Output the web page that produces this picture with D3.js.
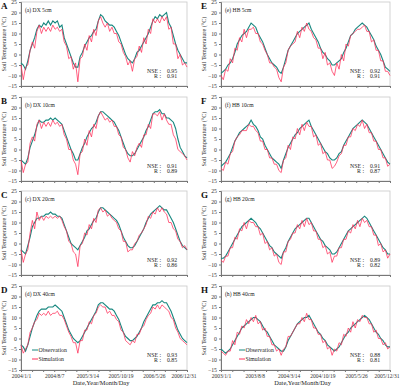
<!DOCTYPE html>
<html>
<head>
<meta charset="utf-8">
<script src="https://cdn.jsdelivr.net/npm/d3@7"></script>
<style>
  body { margin: 0; background: #fff; }
  text { font-family: "Liberation Serif", "DejaVu Serif", serif; }
</style>
</head>
<body>
<div id="chart"></div>
<script>
// sampled every 15 days over 1096 days
var dayStep = 15;
var dxDates = ["2004/1/1", "2004/8/7", "2005/3/14", "2005/10/19", "2006/5/26", "2006/12/31"];
var hbDates = ["2003/1/1", "2003/8/8", "2004/3/14", "2004/10/19", "2005/5/26", "2005/12/31"];
var yTicks = [-15, -10, -5, 0, 5, 10, 15, 20, 25];
var letters = ["A", "B", "C", "D", "E", "F", "G", "H"];
var titles = ["(a) DX 5cm", "(b) DX 10cm", "(c) DX 20cm", "(d) DX 40cm",
              "(e) HB 5cm", "(f) HB 10cm", "(g) HB 20cm", "(h) HB 40cm"];
var nse = ["0.95", "0.91", "0.92", "0.93", "0.92", "0.91", "0.89", "0.88"];
var rVal = ["0.91", "0.89", "0.86", "0.85", "0.91", "0.87", "0.82", "0.81"];

var dx5Obs = [-4,-5,-7,-3,2,5,8,12,14,13, 15,14,16,14,16,15,16,13,14,8, 5,2,-1,-4,-6,-6,-1,1,4,6,
  8,9,11,12,16,19,18,16,15,14, 14,13,11,9,6,3,0,-2,-3,-4, -2,1,2,4,6,8,10,13,16,18, 17,19,18,19,20,15,13,9,5,2, 0,-2,-4,-4];
var dx5Sim = [-5,-12,-6,-5,2,6,3,11,14,10, 13,11,13,11,14,12,13,11,12,6, 4,-2,-1,-7,-4,-13,-2,-1,5,2,
  9,6,12,9,16,18,15,13,15,11, 13,10,10,6,5,1,-1,-5,-3,-8, -2,-1,4,1,8,5,12,10,17,15, 17,15,18,16,18,12,13,5,5,-2, 0,-5,-4,-6];
var dx10Obs = [-5,-6,-7,-4,1,4,7,11,14,13, 13,14,14,15,14,15,14,13,12,9, 6,3,0,-2,-5,-5,-2,1,3,6,
  8,10,11,13,16,18,18,17,16,15, 14,13,11,9,6,3,0,-2,-3,-3, -2,0,2,4,6,9,11,14,17,18, 18,19,17,17,15,15,14,13,10,5, 1,-1,-3,-4];
var dx10Sim = [-5,-11,-7,-6,3,6,4,12,14,10, 13,11,13,11,14,12,13,11,12,7, 5,0,0,-5,-7,-12,-2,-1,5,2,
  9,6,12,10,16,18,16,14,15,13, 14,11,11,7,6,1,0,-4,-6,-1, -3,1,3,1,7,7,12,10,17,17, 16,18,14,17,14,12,12,7,5,0, -1,-2,-3,-5];
var dx20Obs = [-3,-4,-5,-1,3,8,10,12,12,13, 13,14,14,15,14,14,13,13,12,9, 6,3,0,-1,-2,-3,-1,1,3,6,
  7,9,11,12,15,17,17,16,15,14, 13,12,11,9,6,3,1,-1,-2,-2, -1,1,3,5,7,10,12,14,15,16, 17,18,17,16,16,14,12,10,7,4, 1,-1,-2,-3];
var dx20Sim = [-3,-9,-5,-3,5,11,7,15,11,13, 11,13,12,13,12,13,12,13,11,8, 6,1,0,-4,-5,-11,-1,0,5,4,
  9,7,12,10,16,17,15,16,13,14, 12,11,10,7,6,1,1,-4,-3,-3, 0,1,4,5,7,9,13,12,15,14, 17,15,17,15,14,10,10,7,6,2, 1,-2,-1,-3];
var dx40Obs = [-3,-4,-6,-3,1,5,8,11,13,14, 14,14,15,15,15,16,15,14,13,10, 7,4,2,0,-1,-2,-1,1,3,5,
  7,9,11,13,16,17,17,16,15,14, 14,13,11,9,6,3,1,0,-1,-1, 0,1,3,5,8,10,12,14,16,16, 17,17,18,17,17,15,13,10,7,4, 2,0,-1,-2];
var dx40Sim = [-3,-7,-5,-3,3,5,8,9,12,11, 12,11,13,11,12,12,13,11,11,9, 6,3,1,-2,-2,-7,-1,-1,4,4,
  8,7,11,12,15,16,15,15,12,13, 11,11,9,8,4,3,-1,-2,-3,-1, -2,2,2,5,6,9,11,12,15,14, 16,14,16,15,14,13,10,9,5,3, 0,-1,-2,-3];
var hb5Obs = [-9,-8,-7,-5,-4,-2,1,5,7,9, 10,11,13,15,14,13,10,8,6,3, 0,-2,-4,-5,-6,-8,-9,-6,-2,2,
  4,6,8,10,11,12,13,14,15,12, 10,8,6,3,1,0,-2,-3,-5,-5, -4,-3,-2,1,3,6,9,10,12,13, 14,15,14,13,11,9,7,4,2,0, -3,-6,-7,-8];
var hb5Sim = [-10,-12,-7,-8,-2,-4,3,2,8,6, 12,8,12,12,13,10,10,6,5,2, 0,-4,-4,-6,-7,-11,-13,-6,-4,2,
  4,5,6,11,8,13,11,15,12,11, 8,7,3,3,-2,1,-5,-4,-8,-10, -4,-7,0,-3,5,4,9,10,11,12, 12,13,14,11,11,6,7,2,2,-3, -3,-8,-8,-10];
var hb10Obs = [-8,-7,-6,-4,-2,1,4,6,8,9, 10,11,12,14,12,11,9,6,5,2, 0,-2,-4,-5,-6,-7,-9,-5,-2,1,
  3,5,7,8,10,11,12,13,14,11, 9,7,5,3,1,-1,-2,-4,-5,-5, -4,-2,-1,2,4,6,8,10,11,12, 13,14,13,12,10,8,6,4,2,0, -2,-4,-6,-7];
var hb10Sim = [-9,-10,-6,-7,-2,-1,4,6,7,9, 9,9,12,11,11,9,8,4,4,0, 0,-4,-4,-7,-7,-10,-11,-5,-4,2,
  0,6,5,10,7,12,9,13,11,11, 6,7,2,3,-2,-1,-5,-5,-9,-8, -6,-3,-2,2,2,6,6,10,9,12, 11,14,10,12,8,8,4,4,0,0, -4,-4,-8,-7];
var hb20Obs = [-7,-7,-6,-4,-2,0,2,4,6,8, 9,10,11,12,11,10,8,7,5,3, 1,-1,-2,-4,-5,-6,-7,-4,-2,1,
  3,5,7,8,9,10,11,12,12,10, 8,6,4,2,1,-1,-2,-3,-5,-5, -4,-2,0,2,4,6,7,8,9,10, 11,12,13,12,10,8,6,4,2,0, -2,-3,-5,-5];
var hb20Sim = [-8,-9,-6,-6,-2,-2,3,2,7,6, 10,7,11,10,10,8,8,4,5,0, 1,-3,-2,-6,-5,-9,-10,-4,-4,1,
  2,5,5,9,7,11,8,12,9,10, 6,6,2,2,-2,-1,-5,-4,-9,-6, -6,-2,-2,2,2,6,5,9,7,11, 8,12,10,11,8,8,4,4,-1,0, -4,-3,-7,-5];
var hb40Obs = [-5,-6,-7,-6,-5,-3,-1,1,3,5, 6,7,8,9,10,10,9,8,6,4, 3,1,-1,-3,-4,-5,-6,-6,-4,-1,
  1,3,5,7,8,9,10,10,11,9, 7,5,3,2,0,-1,-3,-4,-5,-6, -5,-4,-2,0,2,3,5,6,7,8, 9,10,11,10,9,7,5,3,2,0, -1,-3,-4,-4];
var hb40Sim = [-6,-7,-8,-6,-6,-1,-3,3,2,6, 5,9,7,10,8,11,7,8,4,5, 1,1,-3,-3,-6,-5,-8,-5,-4,1,
  1,3,5,7,7,10,8,12,9,9, 5,5,2,2,-2,-1,-5,-4,-8,-5, -6,-2,-3,2,1,5,3,8,5,9, 8,11,10,10,7,7,3,4,0,0, -3,-2,-5,-4];

var obsSeries = [dx5Obs, dx10Obs, dx20Obs, dx40Obs, hb5Obs, hb10Obs, hb20Obs, hb40Obs];
var simSeries = [dx5Sim, dx10Sim, dx20Sim, dx40Sim, hb5Sim, hb10Sim, hb20Sim, hb40Sim];

var obsColor = "#17877f", simColor = "#ff2f5a";

var svg = d3.select("#chart").append("svg")
    .attr("width", 400)
    .attr("height", 388);

// panel layout
var cols = [{left: 21, right: 187}, {left: 221, right: 390}];
var rowTops = [2, 97, 191, 286];
var plotH = 84;

function drawPanel(p) {
  var col = cols[Math.floor(p / 4)];
  var row = p % 4;
  var pTop = rowTops[row];
  var dates = p < 4 ? dxDates : hbDates;

  var x = d3.scaleLinear().domain([0, 1095]).range([col.left, col.right]);
  var y = d3.scaleLinear().domain([-15, 25]).range([pTop + plotH, pTop]);

  var g = svg.append("g");

  // frame
  g.append("rect")
    .attr("x", col.left).attr("y", pTop)
    .attr("width", col.right - col.left).attr("height", plotH)
    .attr("fill", "none").attr("stroke", "#c8c8c8").attr("stroke-width", 0.8);

  // y axis
  var ya = g.append("g")
    .attr("transform", "translate(" + col.left + ",0)")
    .call(d3.axisLeft(y).tickValues(yTicks).tickSize(2).tickPadding(2));
  ya.select(".domain").attr("stroke", "#777");
  ya.selectAll(".tick line").attr("stroke", "#777");
  ya.selectAll("text").attr("font-size", 5.8).attr("fill", "#333")
    .attr("font-family", "Liberation Serif");

  // x axis: ticks every 73 days, labels every 219 days on bottom row
  var isBottom = row === 3;
  var xa = g.append("g")
    .attr("transform", "translate(0," + (pTop + plotH) + ")")
    .call(d3.axisBottom(x).tickValues(d3.range(0, 1096, 73)).tickSize(2).tickPadding(2)
      .tickFormat(function(d) { return (isBottom && d % 219 === 0) ? dates[d / 219] : ""; }));
  xa.select(".domain").attr("stroke", "#777");
  xa.selectAll(".tick line").attr("stroke", "#777");
  xa.selectAll("text").attr("font-size", 5.5).attr("fill", "#333")
    .attr("font-family", "Liberation Serif");
  // keep the last date inside the picture
  xa.selectAll(".tick text").filter(function(d) { return d === 1095; })
    .attr("text-anchor", "end").attr("x", 9);

  // y axis title
  g.append("text")
    .attr("transform", "translate(" + (col.left - 15) + "," + (pTop + plotH / 2) + ") rotate(-90)")
    .attr("text-anchor", "middle")
    .attr("font-size", 6.2)
    .attr("fill", "#333")
    .text("Soil Temperature (\u00B0C)");

  // lines
  var line = d3.line()
    .x(function(d, i) { return x(i * dayStep); })
    .y(function(d) { return y(d); });

  g.append("path")
    .datum(obsSeries[p])
    .attr("d", line)
    .attr("fill", "none")
    .attr("stroke", obsColor)
    .attr("stroke-width", 1.1);

  g.append("path")
    .datum(simSeries[p])
    .attr("d", line)
    .attr("fill", "none")
    .attr("stroke", simColor)
    .attr("stroke-width", 0.9)
    .attr("stroke-opacity", 0.85);

  // panel letter
  svg.append("text")
    .attr("x", col.left - 20).attr("y", pTop + 7)
    .attr("font-family", "Liberation Sans")
    .attr("font-weight", "bold")
    .attr("font-size", 9)
    .attr("fill", "#111")
    .text(letters[p]);

  // panel title
  g.append("text")
    .attr("x", col.left + 4).attr("y", pTop + 9.5)
    .attr("font-size", 5.6)
    .attr("fill", "#222")
    .text(titles[p]);

  // NSE and R
  var sx = col.right - 26;
  g.append("text").attr("x", sx).attr("y", pTop + plotH - 13.5)
    .attr("text-anchor", "end").attr("font-size", 5.8).attr("fill", "#222").text("NSE :");
  g.append("text").attr("x", sx + 6).attr("y", pTop + plotH - 13.5)
    .attr("font-size", 5.8).attr("fill", "#222").text(nse[p]);
  g.append("text").attr("x", sx).attr("y", pTop + plotH - 8)
    .attr("text-anchor", "end").attr("font-size", 5.8).attr("fill", "#222").text("R :");
  g.append("text").attr("x", sx + 6).attr("y", pTop + plotH - 8)
    .attr("font-size", 5.8).attr("fill", "#222").text(rVal[p]);

  if (isBottom) {
    // legend
    var lx = p < 4 ? col.left + 11 : col.left + 18;
    var legend = [{name: "Observation", color: obsColor, dy: -18}, {name: "Simulation", color: simColor, dy: -9}];
    legend.forEach(function(l) {
      var ly = pTop + plotH + l.dy - 2;
      g.append("line")
        .attr("x1", lx).attr("x2", lx + 6)
        .attr("y1", ly).attr("y2", ly)
        .attr("stroke", l.color).attr("stroke-width", 1);
      g.append("text")
        .attr("x", lx + 6.5).attr("y", ly + 2)
        .attr("font-size", 5.8).attr("fill", "#222")
        .text(l.name);
    });

    // x axis title
    svg.append("text")
      .attr("x", (col.left + col.right) / 2 - 3).attr("y", 385)
      .attr("text-anchor", "middle")
      .attr("font-size", 6.4)
      .attr("fill", "#222")
      .text("Date,Year/Month/Day");
  }
}

for (var p = 0; p < 8; p++) drawPanel(p);
</script>
</body>
</html>
